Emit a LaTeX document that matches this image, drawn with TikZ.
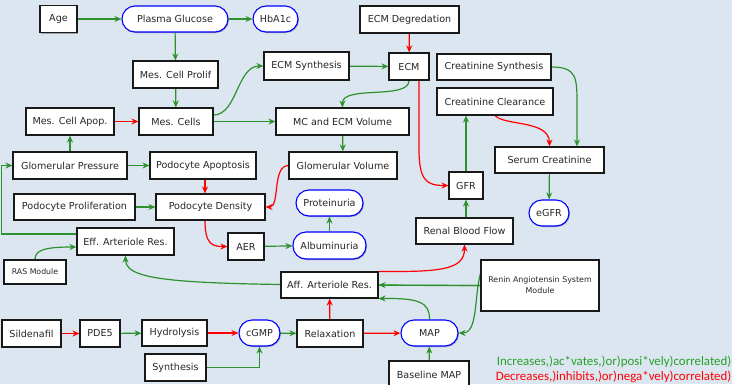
\documentclass[tikz,border=0pt]{standalone}
\usepackage{fontspec}
\setmainfont{DejaVu Sans}
\newfontfamily\legendfont{Carlito}
\usetikzlibrary{arrows.meta,shadows,calc}
\definecolor{bgc}{RGB}{220,230,241}
\definecolor{gr}{RGB}{45,145,45}
\definecolor{lgr}{RGB}{40,160,40}
\definecolor{rd}{RGB}{255,0,0}
\pgfdeclarelayer{bglayer}
\pgfdeclarelayer{edgelayer}
\pgfsetlayers{bglayer,edgelayer,main}
\tikzset{
 base/.style={draw, fill=white, line width=1.1pt, minimum height=27, inner sep=0pt,
   font=\fontsize{9.6}{11}\selectfont, text=black!85,
   drop shadow={shadow xshift=1pt, shadow yshift=-1pt, fill=black, opacity=0.3}},
 box/.style={base, draw=black!90},
 rbox/.style={base, draw=blue, rounded corners=13, minimum height=26},
 posarr/.style={draw=gr, line width=1.2pt, -{Stealth[length=7pt,width=6pt]}},
 negarr/.style={draw=rd, line width=1.2pt, -{Stealth[length=7pt,width=6pt]}},
}
\begin{document}
\begin{tikzpicture}[x=1pt,y=-1pt]
\begin{pgfonlayer}{bglayer}
\fill[bgc] (0,0) rectangle (732,384);
\end{pgfonlayer}
\useasboundingbox (0,0) rectangle (732,384);
% nodes
\node[box, minimum width=37] (age) at (58.5,19) {Age};
\node[rbox, minimum width=106] (pg) at (175,19) {Plasma Glucose};
\node[rbox, minimum width=45] (hba) at (275.5,19) {HbA1c};
\node[box, minimum width=99] (ecmdeg) at (409.5,19.5) {ECM Degredation};
\node[box, minimum width=85] (mcprolif) at (175.5,74.5) {Mes. Cell Prolif};
\node[box, minimum width=85, minimum height=28] (ecmsyn) at (306.5,66) {ECM Synthesis};
\node[box, minimum width=40] (ecm) at (409,66.5) {ECM};
\node[box, minimum width=114, minimum height=26] (creasyn) at (494,67) {Creatinine Synthesis};
\node[box, minimum width=116] (creaclr) at (495,101.5) {Creatinine Clearance};
\node[box, minimum width=88] (mcapop) at (70,121.5) {Mes. Cell Apop.};
\node[box, minimum width=74] (mcells) at (176,121.5) {Mes. Cells};
\node[box, minimum width=133] (mcecm) at (342.5,121.5) {MC and ECM Volume};
\node[box, minimum width=109, minimum height=26] (serum) at (549.5,160) {Serum Creatinine};
\node[box, minimum width=114] (gp) at (70,165.5) {Glomerular Pressure};
\node[box, minimum width=106] (podapop) at (203,165.5) {Podocyte Apoptosis};
\node[box, minimum width=108] (gv) at (343,165.5) {Glomerular Volume};
\node[box, minimum width=34] (gfr) at (466,185.5) {GFR};
\node[rbox, minimum width=40] (egfr) at (549,213) {eGFR};
\node[box, minimum width=121, minimum height=26] (podprolif) at (74.5,207) {Podocyte Proliferation};
\node[box, minimum width=109, minimum height=26] (poddens) at (210.5,207) {Podocyte Density};
\node[rbox, minimum width=67] (prot) at (329.5,203) {Proteinuria};
\node[box, minimum width=36] (aer) at (246,246.5) {AER};
\node[rbox, minimum width=73, minimum height=27] (alb) at (329.5,245.5) {Albuminuria};
\node[box, minimum width=97, minimum height=26] (rbf) at (464.5,231) {Renal Blood Flow};
\node[box, minimum width=97] (eff) at (125.5,241.5) {Eff. Arteriole Res.};
\node[box, minimum width=62, minimum height=24, font=\fontsize{7.8}{9}\selectfont] (ras) at (35,272) {RAS Module};
\node[box, minimum width=97, minimum height=26] (aff) at (329.5,285) {Aff. Arteriole Res.};
\node[box, minimum width=118, minimum height=51, align=center, font=\fontsize{7.9}{11}\selectfont] (renin) at (540,285.5) {Renin Angiotensin System\\Module};
\node[box, minimum width=59] (sild) at (31.5,333.5) {Sildenafil};
\node[box, minimum width=40] (pde5) at (100,333.5) {PDE5};
\node[box, minimum width=65, minimum height=26] (hyd) at (174.5,333) {Hydrolysis};
\node[rbox, minimum width=41] (cgmp) at (259.5,333) {cGMP};
\node[box, minimum width=66] (relax) at (330,333.5) {Relaxation};
\node[rbox, minimum width=57] (map) at (429.5,333) {MAP};
\node[box, minimum width=61] (synth) at (175.5,367.5) {Synthesis};
\node[box, minimum width=80] (bmap) at (429,374.5) {Baseline MAP};
% legend
\node[anchor=east, inner sep=0pt, text=lgr, font=\legendfont\fontsize{12.9}{14}\selectfont] (leg1) at (731.5,361.5) {Increases,)ac*vates,)or)posi*vely)correlated)};
\node[anchor=east, inner sep=0pt, text=rd, font=\legendfont\fontsize{12.9}{14}\selectfont] (leg2) at (731.5,376.5) {Decreases,)inhibits,)or)nega*vely)correlated)};
% edges
\begin{pgfonlayer}{edgelayer}
\draw[posarr] (age) -- (pg);
\draw[posarr] (pg) -- (hba);
\draw[posarr] (pg) -- (mcprolif);
\draw[posarr] (mcprolif) -- (mcells);
\draw[negarr] (mcapop) -- (mcells);
\draw[posarr] ([yshift=6.5]mcells.east) .. controls (237,115) and (237,66) .. (ecmsyn.west);
\draw[posarr] (mcells) -- (mcecm);
\draw[posarr] (ecmsyn) -- (ecm);
\draw[negarr] (ecmdeg) -- (ecm);
\draw[posarr] (ecm.south) .. controls (409,100) and (342,85) .. (mcecm.north);
\draw[negarr] ([xshift=10]ecm.south) -- ++(0,68) .. controls (419,180) and (426,185.5) .. (gfr.west);
\draw[posarr] (creasyn.east) .. controls (577,67) and (577,78) .. (577,105) -- ([xshift=27.5]serum.north);
\draw[negarr] (creaclr.south) .. controls (505,126) and (549,120) .. (serum.north);
\draw[posarr] (gfr.north) -- (gfr.north |- creaclr.south);
\draw[posarr] (serum) -- (egfr);
\draw[posarr] (mcecm) -- (gv);
\draw[posarr] (gp) -- (mcapop);
\draw[posarr] (gp) -- (podapop);
\draw[negarr] ([xshift=2]podapop.south) -- ([xshift=-5.5]poddens.north);
\draw[negarr] (gv.west) .. controls (272,165.5) and (280,207) .. (poddens.east);
\draw[posarr] (podprolif) -- (poddens);
\draw[negarr] ([xshift=-5.5]poddens.south) .. controls (205,244) and (212,246.5) .. (aer.west);
\draw[posarr] (aer) -- (alb);
\draw[posarr] (alb) -- (prot);
\draw[posarr] ([yshift=7.5]eff.west) -- ++(-75,0) |- (gp.west);
\draw[posarr] (ras.north) .. controls (35,250) and (45,247) .. ([yshift=-5.5]eff.west);
\draw[posarr] (renin.west) .. controls (200,285) and (125.5,285) .. (eff.south);
\draw[posarr] (renin.west) -- (aff.east);
\draw[negarr] (aff.north east) .. controls (440,272) and (464.5,270) .. (rbf.south);
\draw[posarr] (rbf.north -| gfr) -- (gfr.south);
\draw[posarr] (map.north) .. controls (430,302) and (418,298) .. (aff.south east);
\draw[posarr] ([yshift=12]renin.west) .. controls (474,297.5) and (478,333) .. (map.east);
\draw[negarr] (sild) -- (pde5);
\draw[posarr] (pde5) -- (hyd);
\draw[negarr] (hyd) -- (cgmp);
\draw[posarr] (synth.east) -| (cgmp.south);
\draw[posarr] (cgmp) -- (relax);
\draw[negarr] (relax) -- (aff);
\draw[negarr] (relax) -- (map);
\draw[posarr] (bmap) -- (map);
\end{pgfonlayer}
\end{tikzpicture}
\end{document}
